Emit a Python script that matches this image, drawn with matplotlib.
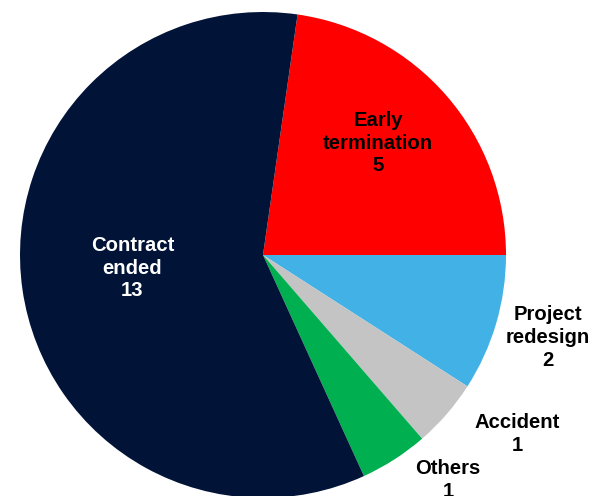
import matplotlib
matplotlib.use("Agg")
import matplotlib.pyplot as plt
import numpy as np

plt.rcParams['font.family'] = ['Liberation Sans', 'DejaVu Sans']

categories = ["Early\ntermination", "Project\nredesign", "Accident", "Others", "Contract\nended"]
values = [5, 2, 1, 1, 13]
colors = ["#FF0000", "#42B2E6", "#C4C4C4", "#00B050", "#021338"]
text_colors = ["black", "black", "black", "black", "white"]

# label placement: (angle in degrees, distance as fraction of radius)
label_polar = [(44.2, 0.66), (-16.2, 1.22), (-35.2, 1.28), (-50.6, 1.20), (185.7, 0.54)]

fig = plt.figure(figsize=(5.99, 4.96), dpi=100)
ax = fig.add_axes([0, 0, 1, 1])

total = sum(values)
start = values[0] / total * 360.0
ax.pie(values, colors=colors, startangle=start, counterclock=False,
       radius=1.0, center=(0, 0), wedgeprops=dict(linewidth=0))

for cat, val, tc, (ang, dist) in zip(categories, values, text_colors, label_polar):
    a = np.deg2rad(ang)
    ax.text(dist * np.cos(a), dist * np.sin(a), f"{cat}\n{val}",
            ha="center", va="center", fontsize=14.6, fontweight="bold",
            color=tc, linespacing=1.25)

R = 243.0
ax.set_xlim(-263 / R, (599 - 263) / R)
ax.set_ylim((255 - 496) / R, 255 / R)
ax.set_aspect("auto")
ax.axis("off")

fig.savefig("out.png", dpi=100)
